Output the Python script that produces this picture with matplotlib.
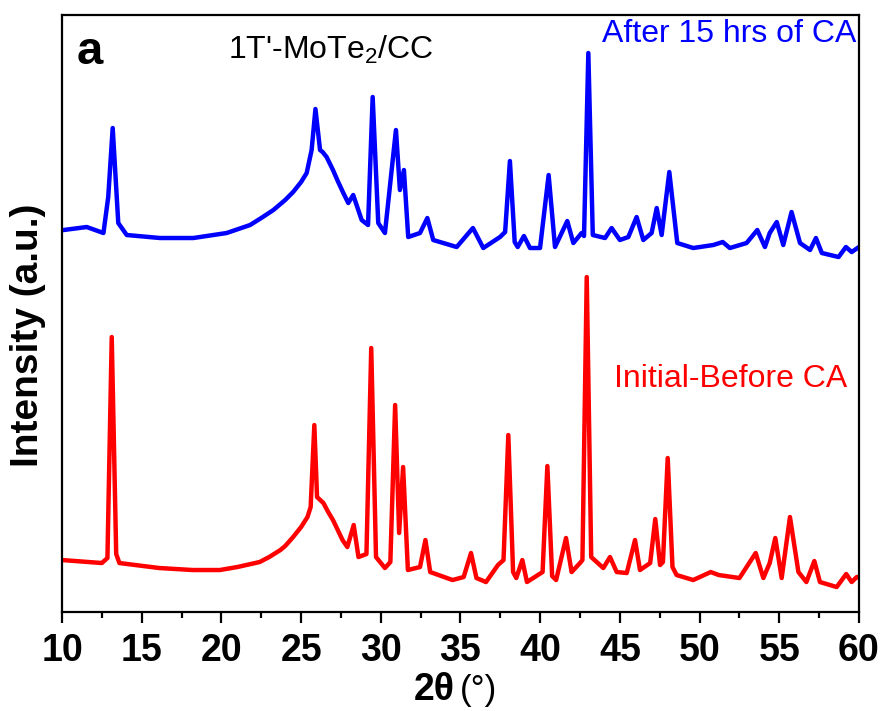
import matplotlib
matplotlib.use("Agg")
import matplotlib.pyplot as plt
from matplotlib.ticker import MultipleLocator

plt.rcParams['font.family'] = ['Liberation Sans', 'DejaVu Sans']
plt.rcParams['mathtext.fontset'] = 'custom'
plt.rcParams['mathtext.rm'] = 'Liberation Sans'

## XRD pattern (2theta in degrees, intensity in a.u.)
two_theta_initial = [10.0, 12.5, 12.85, 13.12, 13.4, 13.6, 16.1, 18.2, 19.9, 21.0, 22.4,
                     23.0, 23.7, 24.0, 24.5, 25.0, 25.4, 25.6, 25.83, 26.0, 26.4, 26.7,
                     27.0, 27.3, 27.6, 27.9, 28.3, 28.6,
                     29.1, 29.4, 29.7, 30.26, 30.6, 30.9, 31.15, 31.4, 31.7, 32.46, 32.8,
                     33.1, 34.5, 35.2, 35.66, 36.0, 36.6, 37.35, 37.7, 38.0, 38.3, 38.5,
                     38.88, 39.17, 40.15, 40.45, 40.75, 41.0, 41.62, 41.97, 42.5, 42.65,
                     42.92, 43.2, 43.96, 44.38, 44.8, 45.43, 45.95, 46.26, 46.9, 47.22,
                     47.52, 47.7, 48.0, 48.3, 48.56, 49.6, 50.7, 51.2, 52.5, 53.52, 54.0,
                     54.4, 54.75, 55.15, 55.67, 56.2, 56.7, 57.2, 57.55, 58.6, 59.2,
                     59.54, 59.86, 60.0]
intensity_initial = [52, 49, 54, 275, 58, 49, 44, 42, 42, 45, 50,
                     55, 62, 66, 75, 85, 95, 105, 187, 115, 109, 100,
                     92, 82, 72, 65, 87, 55,
                     58, 264, 55, 44, 50, 207, 79, 145, 42, 45, 72,
                     40, 32, 35, 59, 34, 30, 47, 52, 177, 40, 34,
                     52, 30, 40, 146, 36, 32, 74, 40, 49, 52,
                     335, 55, 44, 55, 40, 39, 72, 42, 49, 93,
                     47, 50, 154, 45, 37, 32, 40, 37, 34, 59, 34,
                     49, 74, 34, 95, 40, 30, 51, 30, 25, 38,
                     30, 35, 35]

two_theta_after = [10.1, 11.55, 12.6, 12.9, 13.18, 13.53, 14.06, 16.15, 18.24, 20.33, 21.8,
                   22.5, 23.26, 24.0, 24.5, 25.0, 25.35, 25.66, 25.9, 26.19, 26.35, 26.6,
                   27.0, 27.3, 27.65, 27.96, 28.27,
                   28.8, 29.2, 29.49, 29.84, 30.26, 30.95, 31.2, 31.45, 31.72, 32.46, 32.92,
                   33.29, 34.76, 35.78, 36.43, 37.48, 37.8, 38.1, 38.4, 38.59, 38.98, 39.36,
                   39.99, 40.53, 40.93, 41.7, 42.08, 42.6, 42.75, 43.02, 43.3, 44.07, 44.48,
                   45.0, 45.53, 46.05, 46.47, 46.99, 47.31, 47.62, 48.1, 48.6, 49.6, 50.86,
                   51.45, 51.9, 52.95, 53.62, 54.1, 54.4, 54.84, 55.25, 55.77, 56.3, 56.93,
                   57.3, 57.67, 58.72, 59.18, 59.54, 60.0]
intensity_after = [382, 385, 379, 415, 484, 389, 377, 374, 374, 379, 387,
                   394, 402, 412, 420, 430, 439, 462, 503, 462, 460, 455,
                   442, 431, 419, 409, 417,
                   392, 387, 515, 389, 379, 482, 422, 442, 375, 379, 394,
                   372, 365, 384, 364, 375, 380, 451, 370, 365, 376, 364,
                   364, 437, 365, 391, 369, 379, 376, 559, 377, 374, 384,
                   372, 375, 395, 372, 379, 404, 377, 440, 369, 364, 367,
                   370, 364, 369, 382, 365, 379, 390, 367, 400, 369, 362,
                   374, 359, 355, 365, 360, 365]

fig = plt.figure(figsize=(8.82, 7.11), dpi=100)
ax = fig.add_axes([0.0703, 0.1392, 0.9036, 0.8397])

ax.plot(two_theta_after, intensity_after, color='#0000ff', lw=3.2, solid_joinstyle='round')
ax.plot(two_theta_initial, intensity_initial, color='#ff0000', lw=3.2, solid_joinstyle='round')

ax.set_xlim(10, 60)
ax.set_ylim(0, 597)
ax.xaxis.set_major_locator(MultipleLocator(5))
ax.xaxis.set_minor_locator(MultipleLocator(2.5))
ax.set_yticks([])
for s in ax.spines.values():
    s.set_linewidth(1.6)
ax.tick_params(axis='x', which='major', direction='out', length=8, width=1.6, pad=7)
ax.tick_params(axis='x', which='minor', direction='out', length=4, width=1.6)
for lab in ax.get_xticklabels():
    lab.set_family(['Liberation Sans Narrow', 'Liberation Sans'])
    lab.set_fontweight('bold')
    lab.set_fontsize(27)

# axis titles
fig.text(455 / 882, 1 - 700 / 711, '2θ', ha='right', va='baseline', fontsize=27,
         fontweight='bold', family=['Liberation Sans Narrow', 'Liberation Sans'])
fig.text(460 / 882, 1 - 700 / 711, '(°)', ha='left', va='baseline', fontsize=25,
         family=['Liberation Sans Narrow', 'Liberation Sans'])
fig.text(28 / 882, 1 - 335 / 711, 'Intensity (a.u.)', rotation=90, ha='center', va='center',
         fontsize=28, fontweight='bold')

# annotations
ax.text(0.018, 0.918, 'a', transform=ax.transAxes, fontsize=34, fontweight='bold',
        ha='left', va='baseline')
ax.text(0.208, 0.927, "1T'-MoTe$_2$/CC", transform=ax.transAxes, fontsize=23,
        ha='left', va='baseline')
ax.text(0.997, 0.955, 'After 15 hrs of CA', transform=ax.transAxes, fontsize=23,
        color='#0000ff', ha='right', va='baseline')
ax.text(0.985, 0.377, 'Initial-Before CA', transform=ax.transAxes, fontsize=23,
        color='#ff0000', ha='right', va='baseline')

fig.savefig('out.png', dpi=100)
